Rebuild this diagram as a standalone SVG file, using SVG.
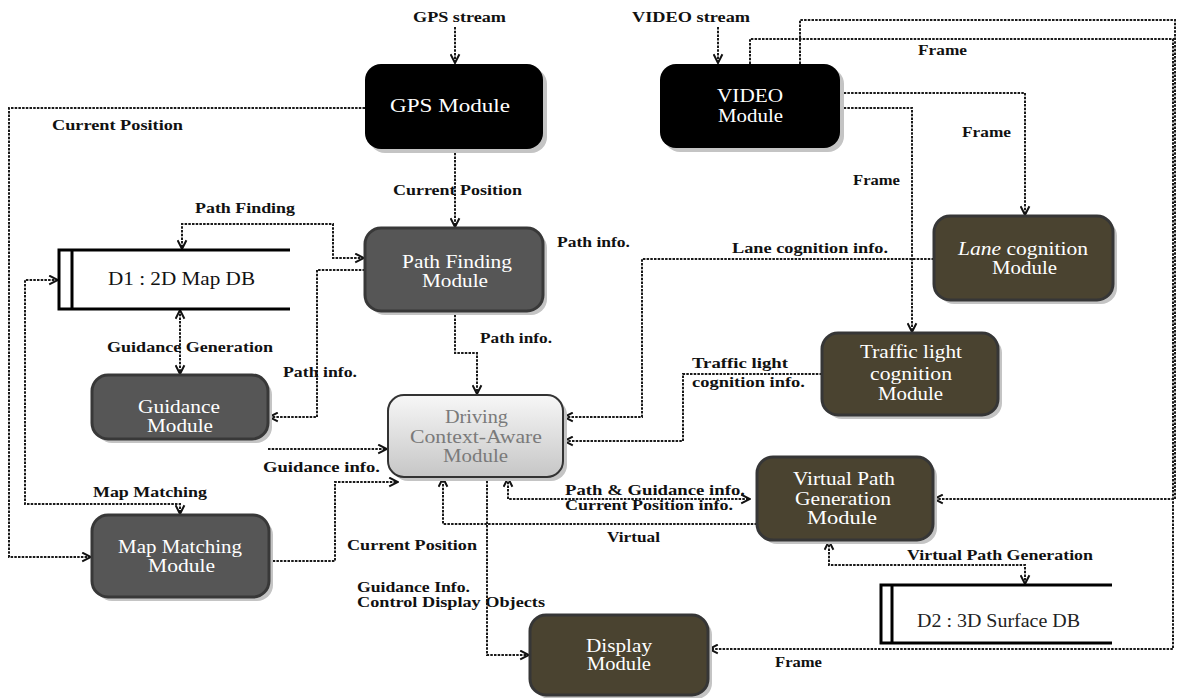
<svg xmlns="http://www.w3.org/2000/svg" width="1177" height="698" viewBox="0 0 1177 698">
<style>
.lbl{font-family:"Liberation Serif","Times New Roman",serif;font-weight:bold;font-size:15px;fill:#111}
.nt{font-family:"Liberation Serif","Times New Roman",serif;font-size:18px;fill:#fff}
.dt{font-family:"Liberation Serif","Times New Roman",serif;font-size:18px;fill:#111}
.sh{fill:#c4c4c4}
.blk{fill:#000}
.gry{fill:#565656;stroke:#383838;stroke-width:3}
.olv{fill:#4a4330;stroke:#363636;stroke-width:3}
.con{fill:none;stroke:#1a1a1a;stroke-width:2;stroke-dasharray:2.5 1.2}
.store{fill:none;stroke:#000;stroke-width:3}
</style>
<defs>
<marker id="ah" viewBox="0 0 10 10" refX="9" refY="5" markerWidth="11" markerHeight="11" markerUnits="userSpaceOnUse" orient="auto-start-reverse">
<path d="M1,1 L9,5 L1,9" fill="none" stroke="#111" stroke-width="1.8"/>
</marker>
<linearGradient id="dg" x1="0" y1="0" x2="0" y2="1">
<stop offset="0" stop-color="#f7f7f7"/>
<stop offset="1" stop-color="#c6c6c6"/>
</linearGradient>
</defs>
<rect width="1177" height="698" fill="#fff"/>

<g id="connectors">
<path class="con" d="M455,27 V63" marker-end="url(#ah)"/>
<path class="con" d="M718,27 V63" marker-end="url(#ah)"/>
<path class="con" d="M800,64 V20 H1175 V499 H934" marker-end="url(#ah)"/>
<path class="con" d="M750,64 V39 H1173 V649 H709" marker-end="url(#ah)"/>
<path class="con" d="M840,93 H1025 V215" marker-end="url(#ah)"/>
<path class="con" d="M840,108 H912 V332" marker-end="url(#ah)"/>
<path class="con" d="M455,149 V227" marker-end="url(#ah)"/>
<path class="con" d="M365,108 H9 V557 H91" marker-end="url(#ah)"/>
<path class="con" d="M364,258 H333 V224 H182 V249" marker-start="url(#ah)" marker-end="url(#ah)"/>
<path class="con" d="M365,270 H317 V417 H269" marker-end="url(#ah)"/>
<path class="con" d="M180,310 V374" marker-start="url(#ah)" marker-end="url(#ah)"/>
<path class="con" d="M58,280 H25 V504 H180 V514" marker-start="url(#ah)" marker-end="url(#ah)"/>
<path class="con" d="M268,449 H387" marker-end="url(#ah)"/>
<path class="con" d="M269,561 H335 V482 H398" marker-end="url(#ah)"/>
<path class="con" d="M455,311 V353 H477 V394" marker-end="url(#ah)"/>
<path class="con" d="M934,259 H642 V417 H564" marker-end="url(#ah)"/>
<path class="con" d="M822,374 H683 V441 H564" marker-end="url(#ah)"/>
<path class="con" d="M508,478 V499 H750" marker-start="url(#ah)" marker-end="url(#ah)"/>
<path class="con" d="M757,524 H443 V478" marker-end="url(#ah)"/>
<path class="con" d="M487,477 V655 H529" marker-end="url(#ah)"/>
<path class="con" d="M829,541 V565 H1025 V584" marker-start="url(#ah)" marker-end="url(#ah)"/>
</g>

<g id="gps">
<rect class="sh" x="369" y="68" width="178" height="85" rx="16"/>
<rect class="blk" x="365" y="64" width="178" height="85" rx="16"/>
<text class="nt" x="390" y="112" textLength="120" lengthAdjust="spacingAndGlyphs">GPS Module</text>
</g>
<g id="video">
<rect class="sh" x="664" y="68" width="180" height="84" rx="16"/>
<rect class="blk" x="660" y="64" width="180" height="84" rx="16"/>
<text class="nt" x="717" y="102" textLength="66" lengthAdjust="spacingAndGlyphs">VIDEO</text>
<text class="nt" x="718" y="122" textLength="65" lengthAdjust="spacingAndGlyphs">Module</text>
</g>
<g id="pathfinding">
<rect class="sh" x="369" y="232" width="178" height="83" rx="16"/>
<rect class="gry" x="365" y="228" width="178" height="83" rx="16"/>
<text class="nt" x="402" y="268" textLength="110" lengthAdjust="spacingAndGlyphs">Path Finding</text>
<text class="nt" x="422" y="287" textLength="66" lengthAdjust="spacingAndGlyphs">Module</text>
</g>
<g id="d1">
<path class="store" d="M290,250 H59 V309 H290 M72,250 V309"/>
<text class="dt" x="108" y="285" textLength="147" lengthAdjust="spacingAndGlyphs">D1 : 2D Map DB</text>
</g>
<g id="guidance">
<rect class="sh" x="96" y="379" width="176" height="64" rx="16"/>
<rect class="gry" x="92" y="375" width="176" height="64" rx="16"/>
<text class="nt" x="138" y="413" textLength="82" lengthAdjust="spacingAndGlyphs">Guidance</text>
<text class="nt" x="147" y="432" textLength="66" lengthAdjust="spacingAndGlyphs">Module</text>
</g>
<g id="driving">
<rect class="sh" x="392" y="399" width="175" height="82" rx="16"/>
<rect x="388" y="395" width="175" height="82" rx="16" fill="url(#dg)" stroke="#333" stroke-width="2"/>
<text class="nt" x="445" y="423" textLength="63" lengthAdjust="spacingAndGlyphs" style="fill:#7a7a7a">Driving</text>
<text class="nt" x="410" y="443" textLength="132" lengthAdjust="spacingAndGlyphs" style="fill:#7a7a7a">Context-Aware</text>
<text class="nt" x="443" y="462" textLength="65" lengthAdjust="spacingAndGlyphs" style="fill:#7a7a7a">Module</text>
</g>
<g id="mapmatching">
<rect class="sh" x="96" y="519" width="177" height="82" rx="16"/>
<rect class="gry" x="92" y="515" width="177" height="82" rx="16"/>
<text class="nt" x="118" y="553" textLength="124" lengthAdjust="spacingAndGlyphs">Map Matching</text>
<text class="nt" x="148" y="572" textLength="67" lengthAdjust="spacingAndGlyphs">Module</text>
</g>
<g id="lane">
<rect class="sh" x="938" y="220" width="179" height="84" rx="16"/>
<rect class="olv" x="934" y="216" width="179" height="84" rx="16"/>
<text class="nt" x="958" y="255" textLength="130" lengthAdjust="spacingAndGlyphs"><tspan font-style="italic">Lane</tspan> cognition</text>
<text class="nt" x="992" y="274" textLength="65" lengthAdjust="spacingAndGlyphs">Module</text>
</g>
<g id="traffic">
<rect class="sh" x="826" y="337" width="176" height="82" rx="16"/>
<rect class="olv" x="822" y="333" width="176" height="82" rx="16"/>
<text class="nt" x="860" y="358" textLength="102" lengthAdjust="spacingAndGlyphs">Traffic light</text>
<text class="nt" x="870" y="380" textLength="82" lengthAdjust="spacingAndGlyphs">cognition</text>
<text class="nt" x="878" y="400" textLength="65" lengthAdjust="spacingAndGlyphs">Module</text>
</g>
<g id="virtualpath">
<rect class="sh" x="761" y="461" width="176" height="83" rx="16"/>
<rect class="olv" x="757" y="457" width="176" height="83" rx="16"/>
<text class="nt" x="793" y="485" textLength="102" lengthAdjust="spacingAndGlyphs">Virtual Path</text>
<text class="nt" x="795" y="505" textLength="96" lengthAdjust="spacingAndGlyphs">Generation</text>
<text class="nt" x="807" y="524" textLength="70" lengthAdjust="spacingAndGlyphs">Module</text>
</g>
<g id="display">
<rect class="sh" x="534" y="619" width="178" height="80" rx="16"/>
<rect class="olv" x="530" y="615" width="178" height="80" rx="16"/>
<text class="nt" x="586" y="652" textLength="66" lengthAdjust="spacingAndGlyphs">Display</text>
<text class="nt" x="587" y="670" textLength="64" lengthAdjust="spacingAndGlyphs">Module</text>
</g>
<g id="d2">
<path class="store" d="M1112,585 H881 V643 H1112 M892,585 V643"/>
<text class="dt" x="917" y="627" textLength="163" lengthAdjust="spacingAndGlyphs" style="fill:#222">D2 : 3D Surface DB</text>
</g>

<g id="labels">
<text class="lbl" x="413" y="22" textLength="93" lengthAdjust="spacingAndGlyphs">GPS stream</text>
<text class="lbl" x="632" y="22" textLength="118" lengthAdjust="spacingAndGlyphs">VIDEO stream</text>
<text class="lbl" x="918" y="55" textLength="49" lengthAdjust="spacingAndGlyphs">Frame</text>
<text class="lbl" x="52" y="130" textLength="131" lengthAdjust="spacingAndGlyphs">Current Position</text>
<text class="lbl" x="962" y="137" textLength="49" lengthAdjust="spacingAndGlyphs">Frame</text>
<text class="lbl" x="853" y="185" textLength="47" lengthAdjust="spacingAndGlyphs">Frame</text>
<text class="lbl" x="393" y="195" textLength="129" lengthAdjust="spacingAndGlyphs">Current Position</text>
<text class="lbl" x="195" y="213" textLength="100" lengthAdjust="spacingAndGlyphs">Path Finding</text>
<text class="lbl" x="557" y="247" textLength="73" lengthAdjust="spacingAndGlyphs">Path info.</text>
<text class="lbl" x="732" y="253" textLength="156" lengthAdjust="spacingAndGlyphs">Lane cognition info.</text>
<text class="lbl" x="480" y="343" textLength="72" lengthAdjust="spacingAndGlyphs">Path info.</text>
<text class="lbl" x="107" y="352" textLength="166" lengthAdjust="spacingAndGlyphs">Guidance Generation</text>
<text class="lbl" x="692" y="368" textLength="96" lengthAdjust="spacingAndGlyphs">Traffic light</text>
<text class="lbl" x="692" y="387" textLength="113" lengthAdjust="spacingAndGlyphs">cognition info.</text>
<text class="lbl" x="283" y="377" textLength="74" lengthAdjust="spacingAndGlyphs">Path info.</text>
<text class="lbl" x="263" y="472" textLength="117" lengthAdjust="spacingAndGlyphs">Guidance info.</text>
<text class="lbl" x="565" y="495" textLength="180" lengthAdjust="spacingAndGlyphs">Path &amp; Guidance info.</text>
<text class="lbl" x="93" y="497" textLength="114" lengthAdjust="spacingAndGlyphs">Map Matching</text>
<text class="lbl" x="565" y="510" textLength="168" lengthAdjust="spacingAndGlyphs">Current Position info.</text>
<text class="lbl" x="607" y="542" textLength="53" lengthAdjust="spacingAndGlyphs">Virtual</text>
<text class="lbl" x="347" y="550" textLength="130" lengthAdjust="spacingAndGlyphs">Current Position</text>
<text class="lbl" x="907" y="560" textLength="186" lengthAdjust="spacingAndGlyphs">Virtual Path Generation</text>
<text class="lbl" x="357" y="592" textLength="113" lengthAdjust="spacingAndGlyphs">Guidance Info.</text>
<text class="lbl" x="357" y="607" textLength="188" lengthAdjust="spacingAndGlyphs">Control Display Objects</text>
<text class="lbl" x="775" y="667" textLength="47" lengthAdjust="spacingAndGlyphs">Frame</text>
</g>
</svg>
